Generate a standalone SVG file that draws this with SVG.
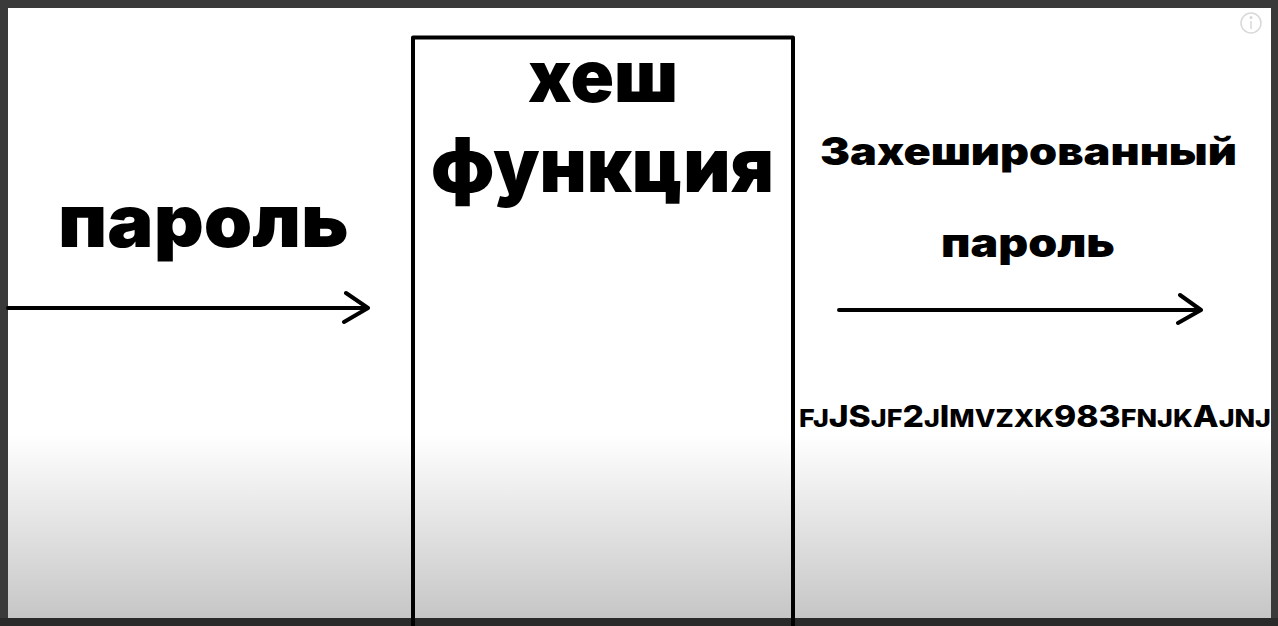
<svg xmlns="http://www.w3.org/2000/svg" width="1278" height="626" viewBox="0 0 1278 626">
<defs>
<linearGradient id="bg" x1="0" y1="0" x2="0" y2="1" gradientUnits="objectBoundingBox">
<stop offset="0" stop-color="#ffffff"/>
<stop offset="0.7" stop-color="#ffffff"/>
<stop offset="1" stop-color="#c6c6c6"/>
</linearGradient>
</defs>
<style>
.h{font-family:Inter,"Noto Sans",sans-serif;font-weight:900;fill:#000}
.code{font-family:Inter,"Noto Sans",sans-serif;font-weight:800;fill:#000}
.big{font-size:30px}
.sm{font-size:24px}
.ln{stroke:#000;stroke-width:4;fill:none;stroke-linecap:round;stroke-linejoin:round}
</style>
<rect x="0" y="0" width="1278" height="626" fill="#3a3a3a"/>
<rect x="0" y="618" width="1278" height="8" fill="#2a2a2a"/>
<rect x="8" y="8" width="1263" height="610" fill="url(#bg)"/>
<g id="info-icon" fill="none" stroke="#d8d8d8" stroke-width="1.5">
<circle cx="1251" cy="23" r="10"/>
<line x1="1251" y1="21" x2="1251" y2="29"/>
<circle cx="1251" cy="17.5" r="0.8" fill="#d8d8d8"/>
</g>
<g id="hash-function">
<path class="ln" d="M413 626 V37.5 H793 V626" stroke-linecap="butt"/>
<text class="h" x="528" y="102" font-size="72" textLength="150" lengthAdjust="spacingAndGlyphs">хеш</text>
<text class="h" x="431" y="192" font-size="75" textLength="343" lengthAdjust="spacingAndGlyphs">функция</text>
</g>
<g id="input">
<text class="h" x="58" y="247" font-size="73" textLength="291" lengthAdjust="spacingAndGlyphs">пароль</text>
</g>
<g id="output">
<text class="h" x="820" y="165" font-size="38" textLength="417" lengthAdjust="spacingAndGlyphs">Захешированный</text>
<text class="h" x="941" y="257" font-size="40" textLength="174" lengthAdjust="spacingAndGlyphs">пароль</text>
<text class="code" x="799" y="427" textLength="472" lengthAdjust="spacingAndGlyphs"><tspan class="sm">FJ</tspan><tspan class="big">JS</tspan><tspan class="sm">JF</tspan><tspan class="big">2</tspan><tspan class="sm">J</tspan><tspan class="big">l</tspan><tspan class="sm">MVZXK</tspan><tspan class="big">983</tspan><tspan class="sm">FNJK</tspan><tspan class="big">A</tspan><tspan class="sm">JNJ</tspan></text>
</g>
<g id="connectors">
<path class="ln" d="M8 308 H368 M346 293 L368 308 L344 322"/>
<path class="ln" d="M839 310 H1201 M1180 295 L1201 310 L1178 323"/>
</g>
</svg>
